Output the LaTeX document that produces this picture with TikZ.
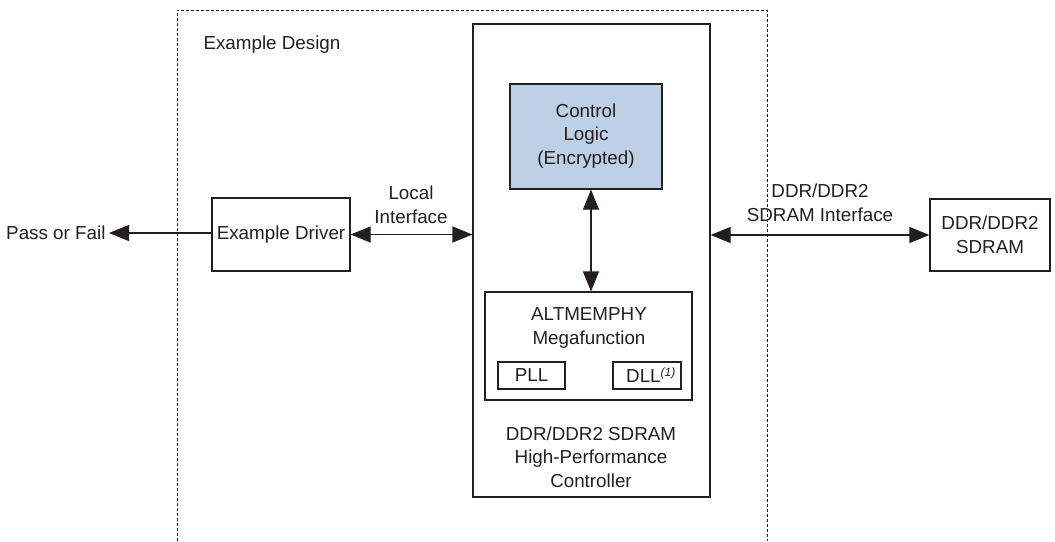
\documentclass[tikz,border=0pt]{standalone}
\usepackage{fontspec}
\setmainfont{Liberation Sans}
\usetikzlibrary{arrows.meta}
\definecolor{ctrlblue}{HTML}{BDD0E6}
\definecolor{linegray}{HTML}{231F20}
\begin{document}
\begin{tikzpicture}[x=1pt,y=-1pt,
  every node/.style={font=\fontsize{18.8}{23.5}\selectfont, text=linegray, align=center},
  blk/.style={draw=linegray, line width=1.2pt, inner sep=0pt},
  conn/.style={draw=linegray, line width=1.2pt},
  tip/.style={-{Triangle[length=20pt,width=16pt]}},
  dtip/.style={{Triangle[length=20pt,width=16pt]}-{Triangle[length=20pt,width=16pt]}},
  dashbox/.style={draw=linegray, line width=0.8pt, dash pattern=on 3pt off 2pt}]
\useasboundingbox (0,0) rectangle (1055,541);
% dashed example design frame (open at bottom)
\draw[dashbox] (177,541) -- (177,10) -- (767,10) -- (767,541);
\node[anchor=west] (ed) at (200,45) {Example Design};
% controller
\node[blk, minimum width=237pt, minimum height=473pt] (ctrl) at (591.5,260.5) {};
\node (ctrltxt) at (591,457) {DDR/DDR2 SDRAM\\High-Performance\\Controller};
% control logic
\node[blk, fill=ctrlblue, minimum width=152pt, minimum height=105pt] (cl) at (586,136.5) {};
\node (cltxt) at (586,136) {Control\\Logic\\(Encrypted)};
% ALTMEMPHY
\node[blk, minimum width=207pt, minimum height=108pt] (alt) at (588.5,346) {};
\node (alttxt) at (589,328) {ALTMEMPHY\\Megafunction};
\node[blk, minimum width=67pt, minimum height=27pt] (pll) at (531.5,375.5) {PLL};
\node[blk, minimum width=68pt, minimum height=27pt] (dll) at (647,375.5) {\hspace{8pt}DLL\textsuperscript{\itshape\fontsize{12}{14}\selectfont(1)}};
% example driver
\node[blk, minimum width=138pt, minimum height=73pt] (drv) at (281,234.5) {Example Driver};
% pass or fail
\node[anchor=east] (pf) at (109,233) {Pass or Fail};
% SDRAM
\node[blk, minimum width=120pt, minimum height=72pt] (sdram) at (990,235) {DDR/DDR2\\SDRAM};
% connectors
\draw[conn, tip] (drv.west |- 0,233) -- (pf.east);
\draw[conn, dtip] (drv.east) -- (ctrl.west |- drv.east);
\node (litxt) at (411,205) {Local\\Interface};
\draw[conn, dtip] (ctrl.east |- sdram.west) -- (sdram.west);
\node (sitxt) at (820,203) {DDR/DDR2\\SDRAM Interface};
\draw[conn, dtip] (cl.south -| 591,0) -- (alt.north -| 591,0);
\end{tikzpicture}
\end{document}
